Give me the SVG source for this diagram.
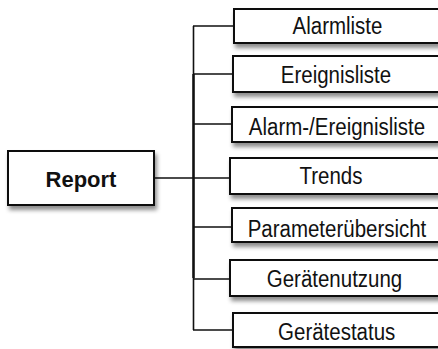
<svg xmlns="http://www.w3.org/2000/svg" width="438" height="349" viewBox="0 0 438 349">
<defs>
<filter id="sh" x="-10%" y="-20%" width="130%" height="160%">
<feDropShadow dx="2" dy="4" stdDeviation="2" flood-color="#000" flood-opacity="0.45"/>
</filter>
<style>
.box{fill:#fff;stroke:#111;stroke-width:2;filter:url(#sh)}
.t{font-family:"Liberation Sans",Arial,sans-serif;font-size:23px;fill:#111;text-anchor:middle}
.b{font-family:"Liberation Sans",Arial,sans-serif;font-size:22px;font-weight:bold;fill:#111;text-anchor:middle}
.c{stroke:#111;fill:none}
</style>
</defs>
<g id="connectors">
<path class="c" stroke-width="1.6" d="M193.5 26V74M193.5 278V330"/>
<path class="c" stroke-width="2.6" d="M193.5 74V278"/>
<path class="c" stroke-width="1.6" d="M193 26H234M193 74H233M193 124H232M154 178H193M193 178H230M193 227H232M193 279H230M193 330H233"/>
</g>
<g id="report">
<rect class="box" x="8" y="151" width="146" height="54"/>
<text class="b" x="81" y="187">Report</text>
</g>
<g id="alarmliste">
<rect class="box" x="234" y="9" width="210" height="34"/>
<text class="t" transform="translate(337.5 34.3) scale(0.89 1)">Alarmliste</text>
</g>
<g id="ereignisliste">
<rect class="box" x="233" y="56" width="210" height="36"/>
<text class="t" transform="translate(336 82.7) scale(0.89 1)">Ereignisliste</text>
</g>
<g id="alarm-ereignisliste">
<rect class="box" x="232" y="107" width="210" height="35"/>
<text class="t" transform="translate(337 135) scale(0.89 1)">Alarm-/Ereignisliste</text>
</g>
<g id="trends">
<rect class="box" x="230" y="158" width="212" height="36"/>
<text class="t" transform="translate(331 184.3) scale(0.89 1)">Trends</text>
</g>
<g id="parameteruebersicht">
<rect class="box" x="232" y="208" width="210" height="34"/>
<text class="t" transform="translate(337 236.5) scale(0.89 1)">Parameterübersicht</text>
</g>
<g id="geraetenutzung">
<rect class="box" x="230" y="260" width="212" height="36"/>
<text class="t" transform="translate(334.5 287) scale(0.89 1)">Gerätenutzung</text>
</g>
<g id="geraetestatus">
<rect class="box" x="233" y="313" width="210" height="34"/>
<text class="t" transform="translate(336.7 340) scale(0.89 1)">Gerätestatus</text>
</g>
</svg>
